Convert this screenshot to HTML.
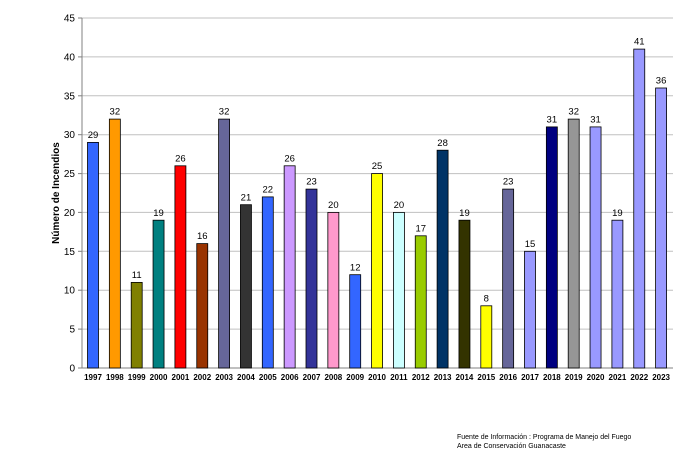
<!DOCTYPE html><html><head><meta charset="utf-8"><style>body{margin:0;background:#fff}svg{display:block;font-family:"Liberation Sans",Arial,sans-serif}</style></head><body>
<svg width="700" height="450" xmlns="http://www.w3.org/2000/svg">
<g stroke="#c0c0c0" stroke-width="1">
<line x1="82" x2="673" y1="329.1" y2="329.1"/><line x1="82" x2="673" y1="290.2" y2="290.2"/><line x1="82" x2="673" y1="251.3" y2="251.3"/><line x1="82" x2="673" y1="212.4" y2="212.4"/><line x1="82" x2="673" y1="173.6" y2="173.6"/><line x1="82" x2="673" y1="134.7" y2="134.7"/><line x1="82" x2="673" y1="95.8" y2="95.8"/><line x1="82" x2="673" y1="56.9" y2="56.9"/><line x1="82" x2="673" y1="18" y2="18"/>
</g>
<g stroke="#808080" stroke-width="1">
<line x1="82" x2="82" y1="18" y2="368"/><line x1="78" x2="673" y1="368" y2="368"/>
<line x1="78" x2="82" y1="329.1" y2="329.1"/><line x1="78" x2="82" y1="290.2" y2="290.2"/><line x1="78" x2="82" y1="251.3" y2="251.3"/><line x1="78" x2="82" y1="212.4" y2="212.4"/><line x1="78" x2="82" y1="173.6" y2="173.6"/><line x1="78" x2="82" y1="134.7" y2="134.7"/><line x1="78" x2="82" y1="95.8" y2="95.8"/><line x1="78" x2="82" y1="56.9" y2="56.9"/><line x1="78" x2="82" y1="18" y2="18"/>
</g>
<g font-size="10" fill="#000" text-anchor="end">
<text x="75" y="371.5">0</text><text x="75" y="332.6">5</text><text x="75" y="293.7">10</text><text x="75" y="254.8">15</text><text x="75" y="215.9">20</text><text x="75" y="177.1">25</text><text x="75" y="138.2">30</text><text x="75" y="99.3">35</text><text x="75" y="60.4">40</text><text x="75" y="21.5">45</text>
</g>
<text transform="translate(59,193) rotate(-90)" text-anchor="middle" font-size="10" font-weight="bold">Número de Incendios</text>
<g stroke="#000" stroke-width="0.8">
<rect x="87.5" y="142.4" width="11" height="225.6" fill="#3366ff"/>
<rect x="109.35" y="119.1" width="11" height="248.9" fill="#ff9900"/>
<rect x="131.2" y="282.4" width="11" height="85.6" fill="#808000"/>
<rect x="153.05" y="220.2" width="11" height="147.8" fill="#008080"/>
<rect x="174.9" y="165.8" width="11" height="202.2" fill="#ff0000"/>
<rect x="196.75" y="243.6" width="11" height="124.4" fill="#993300"/>
<rect x="218.6" y="119.1" width="11" height="248.9" fill="#666699"/>
<rect x="240.45" y="204.7" width="11" height="163.3" fill="#333333"/>
<rect x="262.3" y="196.9" width="11" height="171.1" fill="#3366ff"/>
<rect x="284.15" y="165.8" width="11" height="202.2" fill="#cc99ff"/>
<rect x="306" y="189.1" width="11" height="178.9" fill="#333399"/>
<rect x="327.85" y="212.4" width="11" height="155.6" fill="#ff99cc"/>
<rect x="349.7" y="274.7" width="11" height="93.3" fill="#3366ff"/>
<rect x="371.55" y="173.6" width="11" height="194.4" fill="#ffff00"/>
<rect x="393.4" y="212.4" width="11" height="155.6" fill="#ccffff"/>
<rect x="415.25" y="235.8" width="11" height="132.2" fill="#99cc00"/>
<rect x="437.1" y="150.2" width="11" height="217.8" fill="#003366"/>
<rect x="458.95" y="220.2" width="11" height="147.8" fill="#333300"/>
<rect x="480.8" y="305.8" width="11" height="62.2" fill="#ffff00"/>
<rect x="502.65" y="189.1" width="11" height="178.9" fill="#666699"/>
<rect x="524.5" y="251.3" width="11" height="116.7" fill="#9999ff"/>
<rect x="546.35" y="126.9" width="11" height="241.1" fill="#000080"/>
<rect x="568.2" y="119.1" width="11" height="248.9" fill="#969696"/>
<rect x="590.05" y="126.9" width="11" height="241.1" fill="#9999ff"/>
<rect x="611.9" y="220.2" width="11" height="147.8" fill="#9999ff"/>
<rect x="633.75" y="49.1" width="11" height="318.9" fill="#9999ff"/>
<rect x="655.6" y="88" width="11" height="280" fill="#9999ff"/>
</g>
<g font-size="9.5" text-anchor="middle">
<text x="93" y="138">29</text><text x="114.85" y="114.7">32</text><text x="136.7" y="278">11</text><text x="158.55" y="215.8">19</text><text x="180.4" y="161.4">26</text><text x="202.25" y="239.2">16</text><text x="224.1" y="114.7">32</text><text x="245.95" y="200.3">21</text><text x="267.8" y="192.5">22</text><text x="289.65" y="161.4">26</text><text x="311.5" y="184.7">23</text><text x="333.35" y="208">20</text><text x="355.2" y="270.3">12</text><text x="377.05" y="169.2">25</text><text x="398.9" y="208">20</text><text x="420.75" y="231.4">17</text><text x="442.6" y="145.8">28</text><text x="464.45" y="215.8">19</text><text x="486.3" y="301.4">8</text><text x="508.15" y="184.7">23</text><text x="530" y="246.9">15</text><text x="551.85" y="122.5">31</text><text x="573.7" y="114.7">32</text><text x="595.55" y="122.5">31</text><text x="617.4" y="215.8">19</text><text x="639.25" y="44.7">41</text><text x="661.1" y="83.6">36</text>
</g>
<g font-size="8" font-weight="bold" text-anchor="middle">
<text x="93" y="380">1997</text><text x="114.85" y="380">1998</text><text x="136.7" y="380">1999</text><text x="158.55" y="380">2000</text><text x="180.4" y="380">2001</text><text x="202.25" y="380">2002</text><text x="224.1" y="380">2003</text><text x="245.95" y="380">2004</text><text x="267.8" y="380">2005</text><text x="289.65" y="380">2006</text><text x="311.5" y="380">2007</text><text x="333.35" y="380">2008</text><text x="355.2" y="380">2009</text><text x="377.05" y="380">2010</text><text x="398.9" y="380">2011</text><text x="420.75" y="380">2012</text><text x="442.6" y="380">2013</text><text x="464.45" y="380">2014</text><text x="486.3" y="380">2015</text><text x="508.15" y="380">2016</text><text x="530" y="380">2017</text><text x="551.85" y="380">2018</text><text x="573.7" y="380">2019</text><text x="595.55" y="380">2020</text><text x="617.4" y="380">2021</text><text x="639.25" y="380">2022</text><text x="661.1" y="380">2023</text>
</g>
<g font-size="7" fill="#000">
<text x="457" y="439">Fuente de Información :  Programa de Manejo del Fuego</text>
<text x="457" y="448">Area de Conservación Guanacaste</text>
</g>
</svg>
</body></html>
